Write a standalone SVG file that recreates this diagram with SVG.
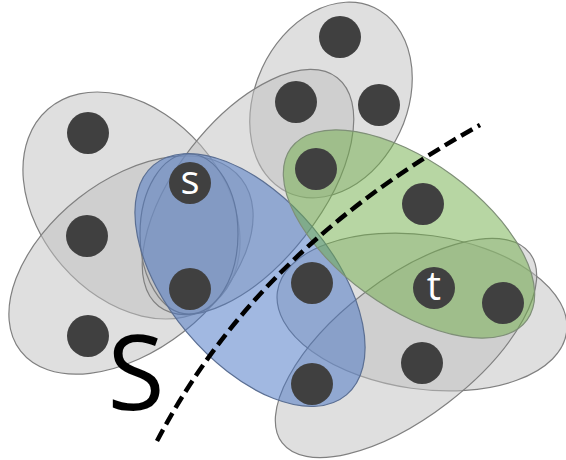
<svg xmlns="http://www.w3.org/2000/svg" width="566" height="460" viewBox="0 0 566 460">
<style>
.he{fill:#bfbfbf;fill-opacity:0.5;stroke:#808080;stroke-width:1.2}
.blue{fill:#4472c4;fill-opacity:0.5;stroke:#5b6f93;stroke-width:1.2}
.green{fill:#70ad47;fill-opacity:0.5;stroke:#7f8f78;stroke-width:1.2}
.nd{fill:#404040}
.lb{fill:#ffffff;font-family:'Open Sans','Noto Sans',sans-serif;font-size:40px;text-anchor:middle}
</style>
<g id="hyperedges">
<ellipse id="eA" class="he" cx="131.5" cy="205.5" rx="127.5" ry="91.7" transform="rotate(49 131.5 205.5)"/>
<ellipse id="eB" class="he" cx="131" cy="265" rx="140" ry="85" transform="rotate(-38 131 265)"/>
<ellipse id="eD" class="he" cx="331" cy="100" rx="76" ry="102" transform="rotate(25 331 100)"/>
<ellipse id="eC" class="he" cx="248" cy="192" rx="145" ry="72" transform="rotate(-52 248 192)"/>
<ellipse id="eS" class="he" cx="189" cy="234" rx="49" ry="80"/>
<ellipse id="eG" class="he" cx="422" cy="312" rx="146" ry="77" transform="rotate(8 422 312)"/>
<ellipse id="eH" class="he" cx="406" cy="348" rx="156" ry="69" transform="rotate(-37.5 406 348)"/>
<ellipse id="eBlue" class="blue" cx="250" cy="280" rx="150" ry="82" transform="rotate(50 250 280)"/>
<ellipse id="eGreen" class="green" cx="409" cy="234" rx="146" ry="73" transform="rotate(36 409 234)"/>
</g>
<g id="connectors">
<path d="M157,441 C210,340 300,225 480,125" fill="none" stroke="#000" stroke-width="4.5" stroke-dasharray="13 6"/>
</g>
<g id="n1"><circle class="nd" cx="88" cy="133" r="21"/></g>
<g id="n2"><circle class="nd" cx="340" cy="37" r="21"/></g>
<g id="n3"><circle class="nd" cx="296" cy="102" r="21"/></g>
<g id="n4"><circle class="nd" cx="379" cy="105" r="21"/></g>
<g id="n5"><circle class="nd" cx="316" cy="169" r="21"/></g>
<g id="ns"><circle class="nd" cx="190" cy="183" r="21"/><text class="lb" x="190" y="194">s</text></g>
<g id="n7"><circle class="nd" cx="423" cy="204" r="21"/></g>
<g id="n8"><circle class="nd" cx="87" cy="236" r="21"/></g>
<g id="n9"><circle class="nd" cx="190" cy="289" r="21"/></g>
<g id="n10"><circle class="nd" cx="312" cy="283" r="21"/></g>
<g id="nt"><circle class="nd" cx="434" cy="288" r="21"/><text class="lb" x="434" y="300">t</text></g>
<g id="n12"><circle class="nd" cx="503" cy="303" r="21"/></g>
<g id="n13"><circle class="nd" cx="88" cy="336" r="21"/></g>
<g id="n14"><circle class="nd" cx="422" cy="363" r="21"/></g>
<g id="n15"><circle class="nd" cx="312" cy="384" r="21"/></g>
<g id="label"><text x="136" y="410" font-family="'Open Sans','Noto Sans',sans-serif" font-size="104" text-anchor="middle" fill="#000">S</text></g>
</svg>
